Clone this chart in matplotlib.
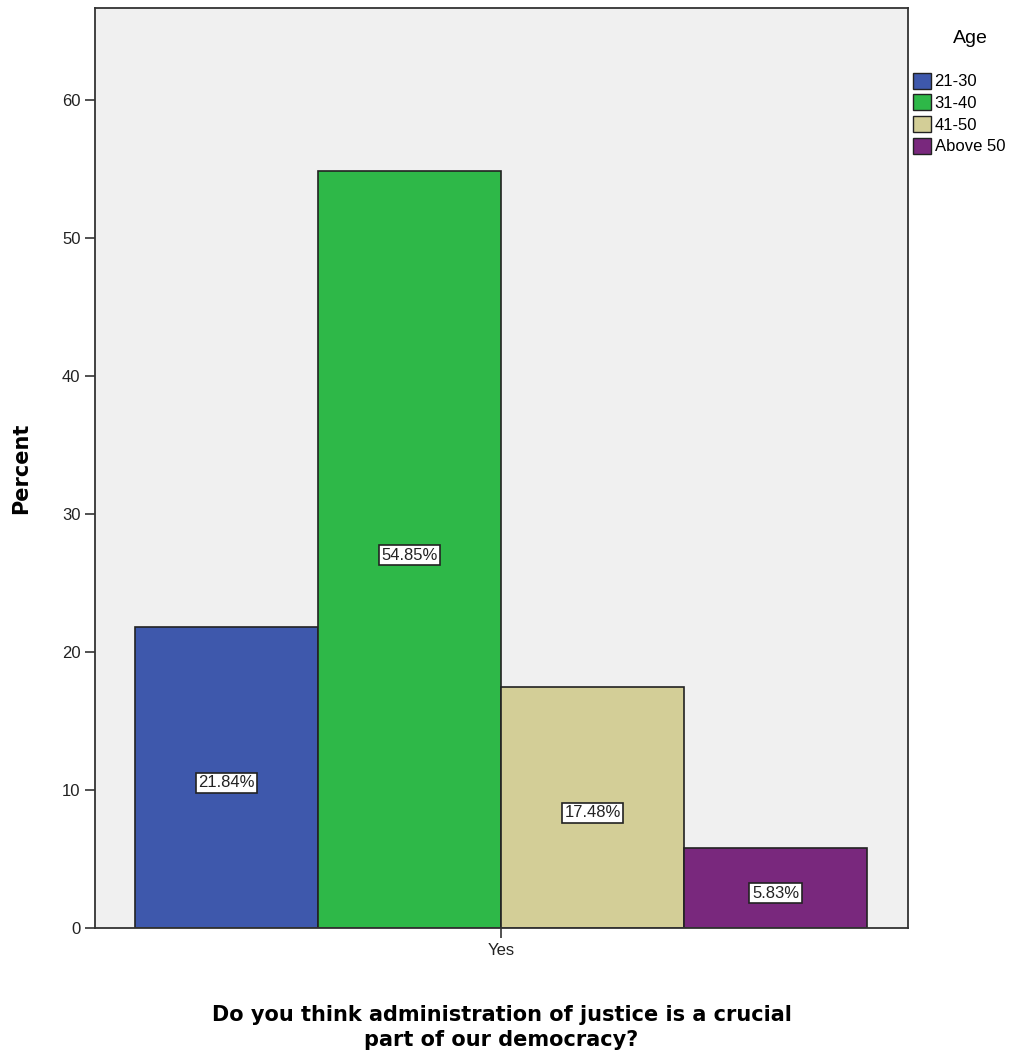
import matplotlib.pyplot as plt
import numpy as np
from matplotlib.patches import Patch

# Data
age_groups = ["21-30", "31-40", "41-50", "Above 50"]
percents = [21.84, 54.85, 17.48, 5.83]
colors = ["#3E58AC", "#2EB848", "#D3CE97", "#79287D"]
category = "Yes"

fig = plt.figure(figsize=(10.34, 10.64), dpi=100)
ax = fig.add_axes([0.0919, 0.1278, 0.7862, 0.8647])
ax.set_facecolor("#F0F0F0")

x = np.arange(len(percents))
bars = ax.bar(x, percents, width=1.0, color=colors, edgecolor="#222222", linewidth=1.2)

for xi, p in zip(x, percents):
    ax.text(xi, p / 2 - 0.4, f"{p:.2f}%", ha="center", va="center", fontsize=12,
            family="Liberation Sans", color="#222222",
            bbox=dict(boxstyle="square,pad=0.15", facecolor="white", edgecolor="#222222", linewidth=1.2))

ax.set_xlim(-0.7186, 3.724)
ax.set_ylim(0, 66.7)
ax.set_yticks([0, 10, 20, 30, 40, 50, 60])
ax.set_xticks([1.5])
ax.set_xticklabels([category])
ax.tick_params(axis="both", labelsize=12, length=7, width=1.2, colors="#333333", labelcolor="#222222")
for lab in ax.get_xticklabels() + ax.get_yticklabels():
    lab.set_family("Liberation Sans")
for s in ax.spines.values():
    s.set_color("#333333")
    s.set_linewidth(1.3)

ax.set_ylabel("Percent", fontsize=15, fontweight="bold", labelpad=22)
ax.set_xlabel("Do you think administration of justice is a crucial\npart of our democracy?",
              fontsize=15, fontweight="bold", labelpad=34, linespacing=1.3)

handles = [Patch(facecolor=c, edgecolor="#222222", label=a) for c, a in zip(colors, age_groups)]
leg = ax.legend(handles=handles, loc="upper left", bbox_to_anchor=(1.0, 0.935),
                frameon=False, prop={"family": "Liberation Sans", "size": 12},
                handlelength=1.1, handleheight=1.1,
                handletextpad=0.2, labelspacing=0.3, borderaxespad=0.2, borderpad=0.1)
fig.text(0.938, 0.964, "Age", ha="center", va="center", fontsize=14, family="Liberation Sans")

fig.savefig("out.png", dpi=100, facecolor="white")
